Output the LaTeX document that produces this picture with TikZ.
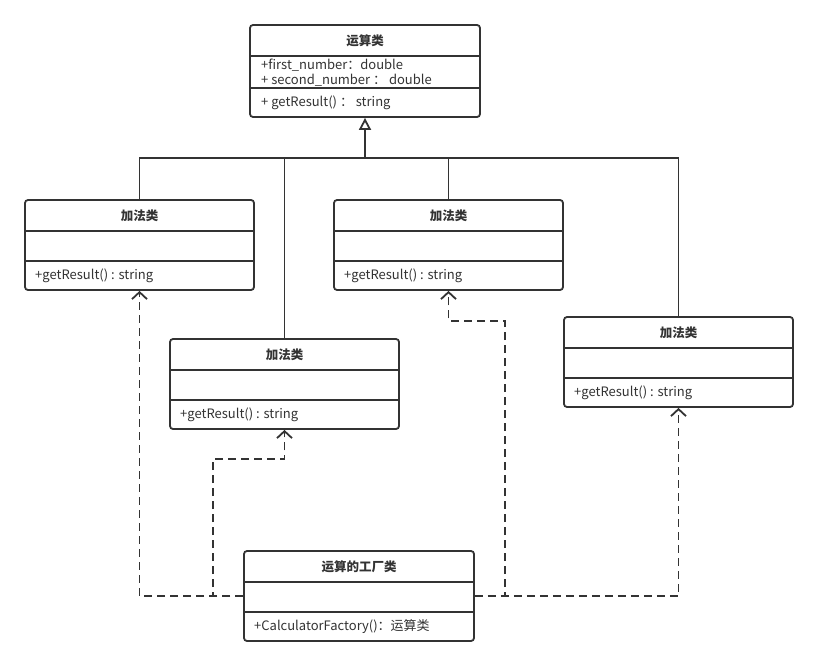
\documentclass[tikz,border=0pt]{standalone}
\usepackage{fontspec}
\setmainfont{Noto Sans CJK SC}
\usetikzlibrary{arrows.meta,positioning,calc}

\begin{document}
\begin{tikzpicture}[
    x=1pt, y=-1pt,
    cls/.style={rectangle, draw=line, line width=1.8pt, rounded corners=3pt, minimum width=229pt, minimum height=90pt, inner sep=0pt, fill=white},
    title/.style={font=\fontsize{12.5}{14}\selectfont\bfseries, inner sep=0pt, text=line},
    member/.style={font=\fontsize{13}{15}\selectfont, anchor=west, inner sep=0pt, text=line},
    sep/.style={draw=line, line width=1.8pt},
    gen/.style={draw=line, line width=1.8pt, -{Triangle[open, length=12pt, width=12pt, fill=white]}},
    dep/.style={draw=line, line width=1.8pt, dash pattern=on 8pt off 5pt, -{Straight Barb[length=7pt, width=15pt]}}
]
    \colorlet{line}{black!80}
    \useasboundingbox (0,0) rectangle (819,666);

    % classes
    \node[cls, minimum width=230pt, minimum height=92pt] (base) at (365,71) {};
    \node[cls] (add1) at (139.5,245) {};
    \node[cls] (add2) at (448.5,245) {};
    \node[cls] (add3) at (284.5,384) {};
    \node[cls] (add4) at (678.5,362) {};
    \node[cls, minimum width=230pt] (factory) at (359,596) {};

    \foreach \c in {base,add1,add2,add3,add4,factory} {
        \draw[sep] ([yshift=-32pt]\c.north west) -- ([yshift=-32pt]\c.north east);
        \draw[sep] ([yshift=30pt]\c.south west) -- ([yshift=30pt]\c.south east);
    }

    % texts
    \node[title] (baset) at (365,41) {运算类};
    \node[member] (basea) at (261,65) {+first\_number：double};
    \node[member] (baseb) at (261,80) {+ second\_number ： double};
    \node[member] (basem) at (261,103) {+ getResult() ： string};

    \node[title] (add1t) at (139.5,216) {加法类};
    \node[member] (add1m) at (35,276) {+getResult() : string};
    \node[title] (add2t) at (448.5,216) {加法类};
    \node[member] (add2m) at (344,276) {+getResult() : string};
    \node[title] (add3t) at (284.5,355) {加法类};
    \node[member] (add3m) at (180,415) {+getResult() : string};
    \node[title] (add4t) at (678.5,333) {加法类};
    \node[member] (add4m) at (574,393) {+getResult() : string};

    \node[title] (factoryt) at (359,567) {运算的工厂类};
    \node[member] (factorym) at (254,627) {+CalculatorFactory()：运算类};

    % generalization
    \coordinate (bus) at (365,158);
    \draw[sep] (add1.north) |- (bus);
    \draw[sep] (add3.north) |- (bus);
    \draw[sep] (add2.north) |- (bus);
    \draw[sep] (add4.north) |- (bus);
    \draw[gen] (bus) -- (base.south);

    % dependencies
    \draw[dep] (factory.west) -| (add1.south);
    \draw[dep] (factory.west) -- ++(-30,0) -- ++(0,-137) -| (add3.south);
    \draw[dep] (factory.east) -- ++(30,0) -- ++(0,-275) -| (add2.south);
    \draw[dep] (factory.east) -| (add4.south);
\end{tikzpicture}
\end{document}
